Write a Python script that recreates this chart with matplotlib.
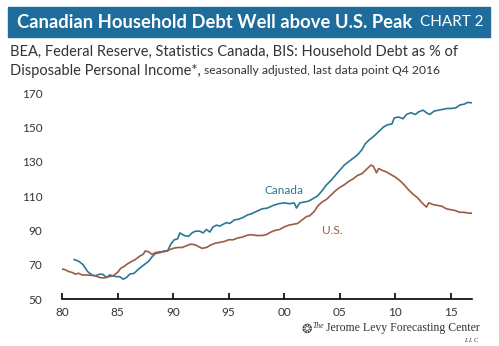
import matplotlib
matplotlib.use("Agg")
import matplotlib.pyplot as plt
from matplotlib.patches import Rectangle

# household debt as % of disposable personal income
canada_years = [1981.1, 1981.5, 1981.9, 1982.3, 1982.7, 1983.0, 1983.4, 1983.7, 1984.0, 1984.3,
                1984.6, 1984.9, 1985.2, 1985.5, 1985.8, 1986.1, 1986.5, 1986.9, 1987.2, 1987.5,
                1987.8, 1988.1, 1988.4, 1988.8, 1989.2, 1989.5, 1989.8, 1990.1, 1990.4, 1990.6,
                1991.0, 1991.4, 1991.7, 1992.0, 1992.4, 1992.7, 1993.0, 1993.3, 1993.6, 1993.9,
                1994.2, 1994.5, 1994.8, 1995.1, 1995.5, 1995.9, 1996.3, 1996.7, 1997.0, 1997.5,
                1998.0, 1998.5, 1999.0, 1999.5, 2000.0, 2000.5, 2000.9, 2001.1, 2001.4, 2001.8,
                2002.2, 2002.6, 2003.0, 2003.4, 2003.8, 2004.2, 2004.6, 2005.0, 2005.4, 2005.8,
                2006.2, 2006.6, 2007.0, 2007.3, 2007.7, 2008.1, 2008.5, 2008.9, 2009.3, 2009.7,
                2009.9, 2010.3, 2010.7, 2011.0, 2011.4, 2011.8, 2012.1, 2012.5, 2012.8, 2013.1,
                2013.5, 2013.9, 2014.3, 2014.7, 2015.1, 2015.5, 2015.8, 2016.2, 2016.5, 2016.9]
canada_debt = [73, 72, 70, 66, 64, 63.5, 64.5, 64.3, 62.5, 64,
               63.5, 63, 63, 61.5, 62.5, 64.5, 65, 67.5, 69, 70.5,
               72, 74.5, 76.5, 77, 78, 78, 82, 84.5, 85, 88.5,
               87, 86.5, 88.5, 89.5, 89.5, 88.5, 90.5, 89, 92, 93,
               92.5, 93.5, 94.5, 94, 96, 96.5, 97.5, 99, 99.5, 101,
               102.5, 103, 104.5, 105.5, 106, 105.5, 106, 103, 106, 106.5,
               107, 108.5, 110, 113, 116.5, 119, 122, 125, 128, 130,
               132, 134, 137, 140.5, 143, 145, 147.5, 150, 151.5, 152,
               155.5, 156, 155, 157.5, 158.5, 157.5, 159, 160, 158.5, 157.5,
               159.5, 160, 160.5, 161, 161, 161.5, 163, 163.5, 164.5, 164.3]

us_years = [1980.0, 1980.3, 1980.6, 1980.9, 1981.2, 1981.5, 1981.8, 1982.2, 1982.6, 1983.0,
            1983.4, 1983.8, 1984.2, 1984.6, 1985.0, 1985.3, 1985.6, 1985.9, 1986.3, 1986.6,
            1987.0, 1987.3, 1987.5, 1987.8, 1988.1, 1988.4, 1988.8, 1989.2, 1989.6, 1990.0,
            1990.4, 1990.8, 1991.2, 1991.6, 1992.0, 1992.3, 1992.6, 1993.0, 1993.4, 1993.8,
            1994.2, 1994.6, 1995.0, 1995.4, 1995.8, 1996.2, 1996.6, 1997.0, 1997.5, 1998.0,
            1998.4, 1998.8, 1999.2, 1999.6, 2000.0, 2000.4, 2000.8, 2001.2, 2001.6, 2002.0,
            2002.3, 2002.7, 2003.0, 2003.4, 2003.8, 2004.2, 2004.6, 2005.0, 2005.4, 2005.8,
            2006.2, 2006.6, 2007.0, 2007.4, 2007.8, 2008.0, 2008.2, 2008.3, 2008.5, 2008.8,
            2009.2, 2009.6, 2010.0, 2010.4, 2010.8, 2011.2, 2011.6, 2012.0, 2012.4, 2012.8,
            2013.0, 2013.4, 2013.8, 2014.2, 2014.6, 2015.0, 2015.4, 2015.8, 2016.2, 2016.6,
            2016.9]
us_debt = [67.5, 67, 66, 65.5, 64.5, 65, 64, 64, 63.8, 63.5,
           62.5, 62.3, 63, 63.5, 65.5, 68, 69, 70.5, 72, 73,
           75, 76, 78, 77.5, 76, 77, 77.5, 77.5, 78.5, 79.5,
           80, 80, 81, 82, 81.5, 80.5, 79.5, 80, 81.5, 82.5,
           83, 83.5, 84.5, 84.5, 85.5, 86, 87, 87.5, 87, 87,
           87.5, 89, 90, 90.5, 92, 93, 93.5, 94, 96, 98,
           98.5, 101, 104, 106.5, 108, 110.5, 113, 115, 116.5, 118.5,
           120, 122, 123, 125.5, 128, 127.5, 125, 123.5, 126, 125,
           124, 122.5, 121, 119, 116.5, 113.5, 111, 109, 106, 103.5,
           106, 105, 104.5, 104, 102.5, 102, 101.5, 100.5, 100.5, 100,
           100]

x_ticks = [1980, 1985, 1990, 1995, 2000, 2005, 2010, 2015]
x_labels = ["80", "85", "90", "95", "00", "05", "10", "15"]
y_ticks = [50, 70, 90, 110, 130, 150, 170]

canada_color = "#2b7796"
us_color = "#9a5b45"
band_color = "#1d6c9c"
text_color = "#333333"
W, H = 499, 346

plt.rcParams["font.family"] = ["Lato", "DejaVu Sans"]
fig = plt.figure(figsize=(W / 100, H / 100), dpi=100)

# title band
fig.patches.append(Rectangle((8 / W, 1 - 37 / H), 482 / W, 30 / H,
                             transform=fig.transFigure, color=band_color, zorder=0))
fig.text(17 / W, 1 - 22 / H, "Canadian Household Debt Well above U.S. Peak",
         color="white", fontsize=13.2, fontweight="bold", va="center", ha="left")
fig.text(483 / W, 1 - 22 / H, "CHART 2", color="white", fontsize=11,
         va="center", ha="right")

fig.text(10 / W, 1 - 52 / H,
         "BEA, Federal Reserve, Statistics Canada, BIS: Household Debt as % of",
         color=text_color, fontsize=10.5, va="center", ha="left")
t = fig.text(10 / W, 1 - 71 / H, "Disposable Personal Income*,",
             color=text_color, fontsize=10.5, va="center", ha="left")
fig.canvas.draw()
bb = t.get_window_extent()
fig.text((bb.x1 + 3) / W, 1 - 71 / H, "seasonally adjusted, last data point Q4 2016",
         color=text_color, fontsize=8.7, va="center", ha="left")

ax = fig.add_axes([62 / W, 1 - 299 / H, 410 / W, 206 / H])
ax.plot(canada_years, canada_debt, color=canada_color, lw=1.2)
ax.plot(us_years, us_debt, color=us_color, lw=1.2)

ax.set_xlim(1980, 2016.9)
ax.set_ylim(50, 170)
ax.set_xticks(x_ticks)
ax.set_xticklabels(x_labels)
ax.set_yticks(y_ticks)
for side in ["top", "right", "left"]:
    ax.spines[side].set_visible(False)
ax.spines["bottom"].set_linewidth(1.2)
ax.tick_params(axis="x", direction="in", length=4, width=1.2, pad=6,
               labelsize=8.5, labelcolor=text_color)
ax.tick_params(axis="y", length=0, pad=14, labelsize=8.5, labelcolor=text_color)

ax.text(2001.7, 113, "Canada", color=canada_color, fontsize=8.5, ha="right", va="center")
ax.text(2004.3, 89.7, "U.S.", color=us_color, fontsize=8.5, ha="center", va="center")

# footer logo
logo = fig.text(480 / W, 1 - 328 / H, "Jerome Levy Forecasting Center", color=text_color,
                fontsize=8.5, va="center", ha="right", family=["Liberation Serif"])
fig.canvas.draw()
lb = logo.get_window_extent()
fig.text((lb.x0 - 2) / W, 1 - 326 / H, "The", color=text_color, fontsize=5.5,
         style="italic", va="center", ha="right", family=["Liberation Serif"])
fig.text(307 / W, 1 - 329 / H, "\u2742", color="#444444", fontsize=9,
         va="center", ha="center", family=["DejaVu Sans"])
fig.text(471 / W, 1 - 341 / H, "L L C", color=text_color, fontsize=4.5, style="italic",
         va="center", ha="center", family=["Liberation Serif"])

fig.savefig("out.png", dpi=100)
